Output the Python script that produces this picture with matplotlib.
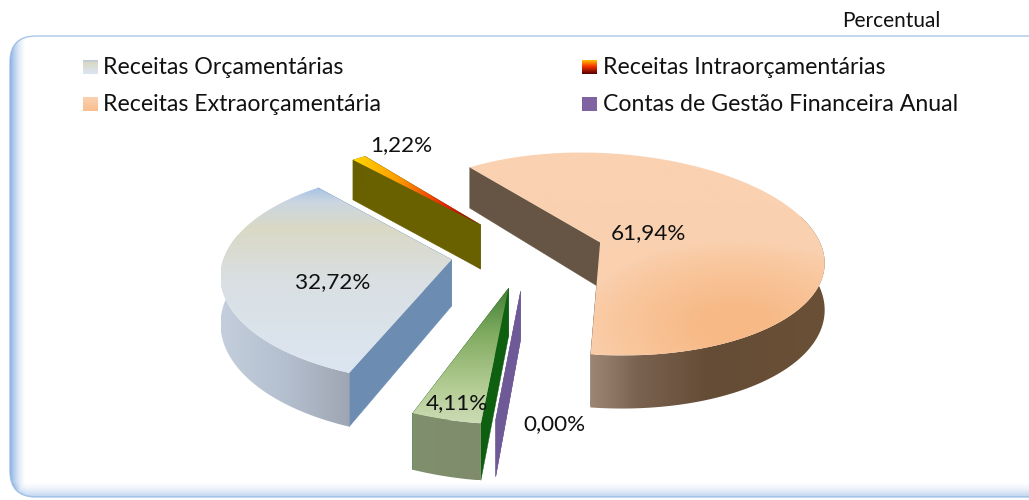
import numpy as np
import matplotlib
matplotlib.use("Agg")
import matplotlib.pyplot as plt
from matplotlib.colors import LinearSegmentedColormap, to_rgb
from matplotlib.patches import Polygon, FancyBboxPatch

# data, in clockwise order round the pie
slice_names = ["Receitas Extraorçamentária", "Contas de Gestão Financeira Anual", "",
               "Receitas Orçamentárias", "Receitas Intraorçamentárias"]
slice_values = [61.94, 0.00, 4.11, 32.72, 1.22]
legend_left = ["Receitas Orçamentárias", "Receitas Extraorçamentária"]
legend_right = ["Receitas Intraorçamentárias", "Contas de Gestão Financeira Anual"]
unit_label = "Percentual"

# camera for the fake 3d
CX, CY = 527, 255
RX, RY = 228, 105
PERSP = 0.15
SHEAR = 10
DEPTH = 46
EXPLODE = 0.33
START = 126

TEXT_FONT = "Lato"
LEGEND_SIZE = 16.7
LABEL_SIZE = 16.2
INK = "#111111"

# gradients: list of (position, colour)
top_stops = {
    0: [(0, "#FAD2B2"), (1, "#FAD0AE")],
    1: [(0, "#7A62A0"), (1, "#7A62A0")],
    2: [(0, "#3F7F35"), (0.35, "#82AC62"), (0.75, "#B5CD95"), (1, "#CBDBB4")],
    3: [(0, "#A6C3E6"), (0.08, "#CBD6E0"), (0.22, "#DAD9C5"), (0.5, "#D9DFE2"), (1, "#DCE6F2")],
    4: [(0, "#FFD800"), (0.35, "#FF9C00"), (0.75, "#E81808"), (1, "#700000")],
}
top_axis = {0: "y", 1: "y", 2: "y", 3: "y", 4: "x"}
outer_stops = {
    0: [(0, "#9C8672"), (0.2, "#7A6250"), (0.5, "#654C36"), (1, "#6A5036")],
    1: [(0, "#6E5A96"), (1, "#6E5A96")],
    2: [(0, "#808F6C"), (1, "#7E8C6C")],
    3: [(0, "#C4CEDC"), (0.5, "#B4BFCF"), (1, "#9FA6B2")],
    4: [(0, "#696000"), (1, "#696000")],
}
wall_color = {0: "#665545", 1: "#6E5A96", 2: "#0F5F10", 3: "#6C8CB2", 4: "#696000"}

# per slice fitting
arc_scale = {0: 0.97, 1: 0.95, 2: 0.98, 3: 0.985, 4: 0.97}
arc_nudge = {0: (2, -7), 1: (0, 0), 2: (-2, 0), 3: (-3, -1), 4: (1, -4)}
apex_nudge = {0: (0, 3), 1: (0, 0), 2: (0, -2), 3: (2, 0), 4: (0, 0)}
label_offset = {0: (50, -13), 1: (34, 133), 2: (-54, 113), 3: (-120, 21), 4: (-78, -84)}
draw_order = [4, 3, 0, 1, 2]


def project(x, y, z=0.0):
    w = 1 + PERSP * y
    sx = CX + RX * x / w - SHEAR * y
    sy = CY - RY * y / w + z * DEPTH / w
    return np.column_stack([sx, sy])


def grad_fill(ax, pts, stops, axis="y", zorder=2):
    cmap = LinearSegmentedColormap.from_list("g", stops)
    x0, x1 = pts[:, 0].min(), pts[:, 0].max()
    y0, y1 = pts[:, 1].min(), pts[:, 1].max()
    ramp = np.linspace(0, 1, 256)
    arr = ramp.reshape(-1, 1) if axis == "y" else ramp.reshape(1, -1)
    im = ax.imshow(arr, cmap=cmap, extent=(x0, x1, y1, y0), origin="upper",
                   aspect="auto", zorder=zorder, vmin=0, vmax=1, interpolation="bilinear")
    clip = Polygon(pts, closed=True, transform=ax.transData, fc="none", ec="none")
    ax.add_patch(clip)
    im.set_clip_path(clip)
    return clip


fig = plt.figure(figsize=(10.29, 5), dpi=100)
ax = fig.add_axes([0, 0, 1, 1])

# frame with its soft blue edge
frame = FancyBboxPatch((10, 36), 1060, 461, boxstyle="round,pad=0,rounding_size=26",
                       fc="white", ec="#A9C6E8", lw=1.0, zorder=1)
ax.add_patch(frame)
yy, xx = np.mgrid[0:500, 0:1029]
dx = np.clip(26 - xx, 0, None) / 16.0
dy = np.clip(yy - 481, 0, None) / 16.0
edge = np.clip(np.maximum(dx, 0.75 * dy) + 0.6 * dx * dy, 0, 1) ** 1.6
glow = np.zeros((500, 1029, 4))
glow[..., :3] = to_rgb("#8FB4E3")
glow[..., 3] = edge
im = ax.imshow(glow, extent=(0, 1029, 500, 0), aspect="auto", zorder=1.1)
im.set_clip_path(frame)

# slices
fractions = np.array(slice_values) / sum(slice_values)
angle = START
slices = {}
for i, frac in enumerate(fractions):
    sweep = 360 * frac
    slices[i] = (angle, angle - sweep)
    angle -= sweep

z = 2
for i in draw_order:
    a0, a1 = slices[i]
    mid = np.radians((a0 + a1) / 2)
    ox, oy = EXPLODE * np.cos(mid), EXPLODE * np.sin(mid)
    th = np.radians(np.linspace(a0, a1, 160))
    arc_x = ox + arc_scale[i] * np.cos(th)
    arc_y = oy + arc_scale[i] * np.sin(th)

    shift = np.array(arc_nudge[i])
    apex_shift = shift + np.array(apex_nudge[i])
    apex_top = project(np.array([ox]), np.array([oy])) + apex_shift
    apex_bot = project(np.array([ox]), np.array([oy]), 1) + apex_shift
    arc_top = project(arc_x, arc_y) + shift
    arc_bot = project(arc_x, arc_y, 1) + shift

    # the two cut faces
    for end in (0, -1):
        wall = np.vstack([apex_top, arc_top[end], arc_bot[end], apex_bot])
        ax.add_patch(Polygon(wall, closed=True, fc=wall_color[i], ec=wall_color[i], lw=0.3, zorder=z))
        z += 0.1

    # outer wall only where the arc faces the viewer
    if slice_values[i] > 0:
        front = np.sin(th) < 0.25 if i != 4 else np.ones_like(th, dtype=bool)
        pts = np.vstack([arc_top[front], arc_bot[front][::-1]])
        grad_fill(ax, pts, outer_stops[i], "x", zorder=z)
        z += 0.1

    # top face
    if slice_values[i] > 0:
        top = np.vstack([apex_top, arc_top])
        clip = grad_fill(ax, top, top_stops[i], top_axis[i], zorder=z)
        z += 0.1
        if i == 0:
            # warm patch on the lower right of the big slice
            gx, gy = np.mgrid[0:1029, 0:500]
            r = np.hypot((gx - 735) / 125.0, (gy - 325) / 68.0)
            warm = np.zeros((500, 1029, 4))
            warm[..., :3] = to_rgb("#F7B57E")
            warm[..., 3] = (np.clip(1.25 - r, 0, 1) ** 0.8 * 0.85).T
            wim = ax.imshow(warm, extent=(0, 1029, 500, 0), aspect="auto", zorder=z)
            wim.set_clip_path(clip)
            z += 0.1

    lx, ly = project(np.array([ox]), np.array([oy]))[0]
    label = f"{slice_values[i]:.2f}".replace(".", ",") + "%"
    ax.text(lx + label_offset[i][0], ly + label_offset[i][1], label, ha="center", va="center",
            fontsize=LABEL_SIZE, family=TEXT_FONT, color=INK, zorder=20)

# legend
swatches = {
    "Receitas Orçamentárias": ([(0, "#A6C3E6"), (0.25, "#DAD9C5"), (1, "#DCE6F2")], "y"),
    "Receitas Extraorçamentária": ([(0, "#FBD3B4"), (1, "#F9BE8E")], "y"),
    "Receitas Intraorçamentárias": ([(0, "#FFD800"), (0.5, "#F83000"), (1, "#500000")], "y"),
    "Contas de Gestão Financeira Anual": ([(0, "#8063A2"), (1, "#8063A2")], "y"),
}
for names, x_box, x_text in ((legend_left, 83, 103), (legend_right, 582, 603)):
    for row, name in enumerate(names):
        y_box = 59.5 + row * 37
        box = np.array([[x_box, y_box], [x_box + 14.5, y_box], [x_box + 14.5, y_box + 14.5], [x_box, y_box + 14.5]])
        grad_fill(ax, box, swatches[name][0], swatches[name][1], zorder=15)
        ax.text(x_text, y_box + 8, name, ha="left", va="center", fontsize=LEGEND_SIZE,
                family=TEXT_FONT, color=INK, zorder=20)

ax.text(891, 21, unit_label, ha="center", va="center", fontsize=15, family=TEXT_FONT, color=INK)

ax.set_xlim(0, 1029)
ax.set_ylim(500, 0)
ax.axis("off")
fig.savefig("out.png", dpi=100, facecolor="white")
